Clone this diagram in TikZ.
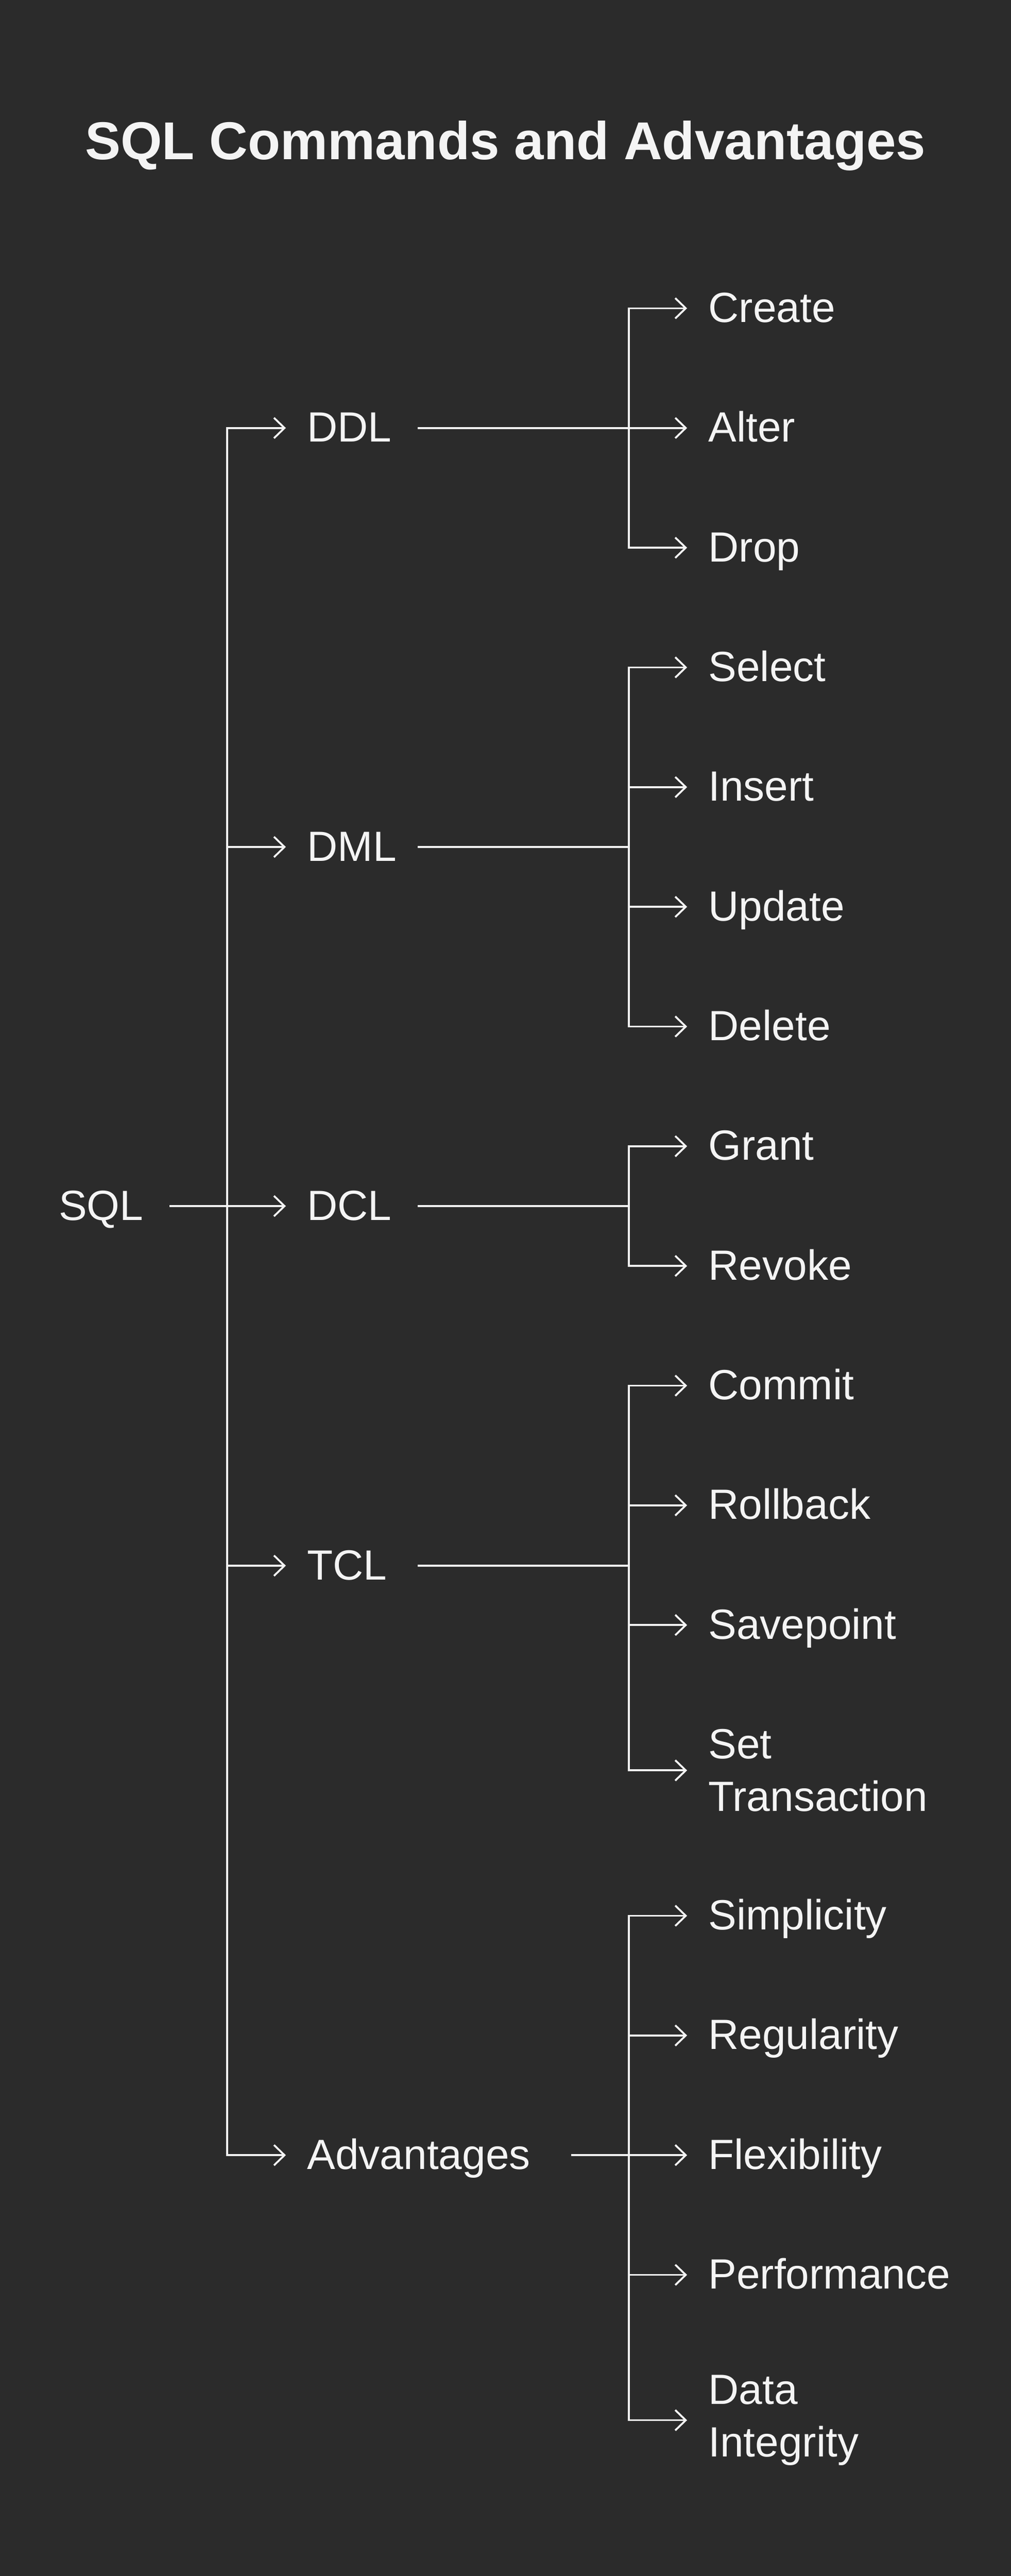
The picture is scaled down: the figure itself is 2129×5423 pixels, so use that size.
\documentclass[tikz,border=0pt]{standalone}
\usepackage{fontspec}
\setmainfont{Liberation Sans}
\usetikzlibrary{arrows.meta}
\definecolor{bgcol}{HTML}{2B2B2B}
\definecolor{inkcol}{HTML}{F4F4F4}
\tikzset{
	lbl/.style={anchor=west, inner xsep=12.2pt, inner ysep=0pt, text height=20.2pt, text depth=3.5pt, font=\fontsize{25.3}{31.3}\selectfont},
	mid/.style={lbl, text width=53.5pt, align=left},
	twoline/.style={lbl, text height=, text depth=, align=left},
	tip/.style={-{Straight Barb[length=6.3pt,width=12.2pt]}}
}
\begin{document}
\begin{tikzpicture}[x=0.01cm, y=-0.01cm, line width=1.14pt, color=inkcol]
	\fill[bgcol] (0,0) rectangle (2129,5423);
	\node[anchor=base, font=\fontsize{31.9}{38}\selectfont\bfseries] (title) at (1064.5,336) {SQL Commands and Advantages};
	\node[mid] (sql) at (79,2539) {SQL};
	\node[mid] (ddl) at (602,901) {DDL};
	\node[mid] (dml) at (602,1783) {DML};
	\node[mid] (dcl) at (602,2539) {DCL};
	\node[mid] (tcl) at (602,3296) {TCL};
	\node[mid, text width=145.4pt] (adv) at (602,4537) {Advantages};
	\foreach \n/\y/\txt in {create/649/Create, alter/901/Alter, drop/1153/Drop, select/1405/Select, insert/1657/Insert, update/1909/Update, delete/2161/Delete, grant/2413/Grant, revoke/2665/Revoke, commit/2917/Commit, rollback/3169/Rollback, savepoint/3421/Savepoint, simplicity/4033/Simplicity, regularity/4285/Regularity, flexibility/4537/Flexibility, performance/4789/Performance}
	{
		\node[lbl] (\n) at (1447,\y) {\txt};
	}
	\node[twoline] (settx) at (1447,3727) {Set\\Transaction};
	\node[twoline] (integrity) at (1447,5095) {Data\\Integrity};
	\coordinate (t) at (478,2539);
	\draw[tip] (sql) -- (dcl);
	\foreach \n in {ddl,dml,tcl,adv}
	{
		\draw[tip] (t) |- (\n.west);
	}
	\foreach \p/\kids in {ddl/{create,alter,drop}, dml/{select,insert,update,delete}, dcl/{grant,revoke}, tcl/{commit,rollback,savepoint,settx}, adv/{simplicity,regularity,flexibility,performance,integrity}}
	{
		\coordinate (j\p) at (1324,0 |- \p.east);
		\draw (\p.east) -- (j\p);
		\foreach \k in \kids
		{
			\draw[tip] (j\p) |- (\k.west);
		}
	}
\end{tikzpicture}
\end{document}
